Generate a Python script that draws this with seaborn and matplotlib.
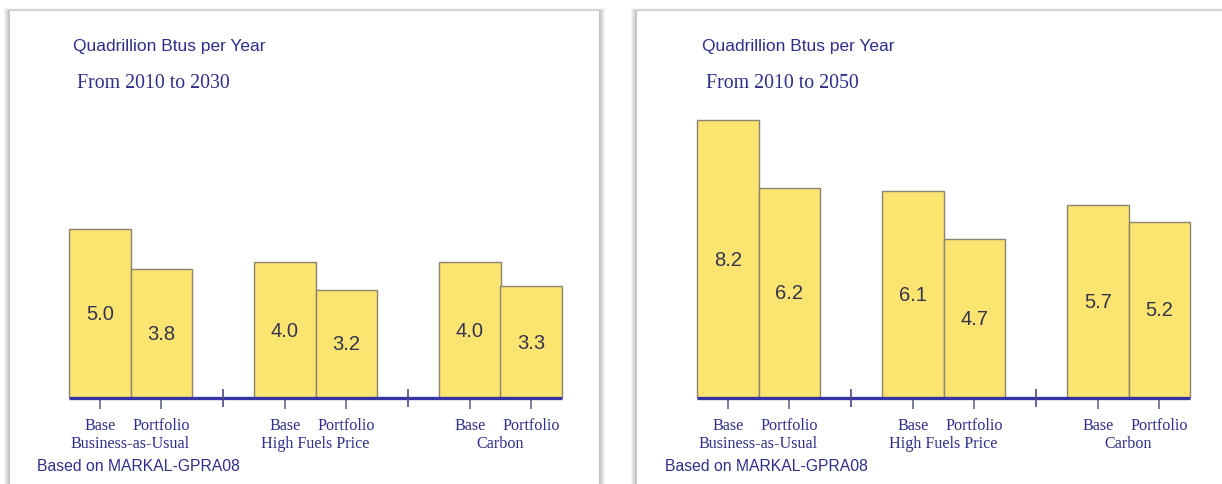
import matplotlib
matplotlib.use("Agg")
import matplotlib.pyplot as plt
from matplotlib.patches import Rectangle
import seaborn as sns
import pandas as pd

# Scenario groups, cases within each group, and the values for each panel
scenarios = ["Business-as-Usual", "High Fuels Price", "Carbon"]
cases = ["Base", "Portfolio"]
values_2030 = [5.0, 3.8, 4.0, 3.2, 4.0, 3.3]
values_2050 = [8.2, 6.2, 6.1, 4.7, 5.7, 5.2]
panel_titles = ["Quadrillion Btus per Year", "Quadrillion Btus per Year"]
panel_subtitles = ["From 2010 to 2030", "From 2010 to 2050"]
footnote = "Based on MARKAL-GPRA08"

W, H = 1222, 485
BAR_FILL = "#fbe470"
BAR_EDGE = "#8c8470"
NAVY = "#2e2e8c"
AXIS_BLUE = "#3434a4"
LABEL_DARK = "#34344e"

sns.set_theme(style="white")
plt.rcParams["font.family"] = ["Liberation Sans", "DejaVu Sans"]

fig = plt.figure(figsize=(W / 100, H / 100), dpi=100)
fig.patch.set_facecolor("white")


def px(x, y):
    """Pixel coords (from top-left) to figure fraction."""
    return x / W, 1 - y / H


def card(x0, y0, x1, y1):
    # soft drop shadow built from stacked translucent rectangles
    for i in range(6, 0, -1):
        fx, fy = px(x0 - i, y1 + 2)
        fw = (x1 - x0 + 2 * i) / W
        fh = (y1 - y0 + i * 0.5 + 2) / H
        fig.patches.append(Rectangle((fx, fy), fw, fh, transform=fig.transFigure,
                                     facecolor="#000000", alpha=0.045,
                                     edgecolor="none", zorder=0))
    fx, fy = px(x0, y1 + 2)
    fig.patches.append(Rectangle((fx, fy), (x1 - x0) / W, (y1 - y0 + 2) / H,
                                 transform=fig.transFigure, facecolor="white",
                                 edgecolor="none", zorder=0.5))


card(10, 12, 599, 490)
card(637, 12, 1230, 490)


def draw_panel(values, title, subtitle, left_px, text_x, foot_x):
    df = pd.DataFrame({
        "scenario": [s for s in scenarios for _ in cases],
        "case": cases * len(scenarios),
        "value": values,
    })
    axw = 555
    ax = fig.add_axes([left_px / W, 86 / H, axw / W, 339 / H])
    ax.set_zorder(2)
    ax.patch.set_alpha(0)
    sns.barplot(data=df, x="scenario", y="value", hue="case", order=scenarios,
                hue_order=cases, palette=[BAR_FILL, BAR_FILL], saturation=1,
                width=0.665, gap=0, edgecolor=BAR_EDGE, linewidth=1.0,
                legend=False, errorbar=None, ax=ax, zorder=2)
    ax.set_xlim(-0.5, 2.5)
    ax.set_ylim(0, 10)
    for c in ax.containers:
        ax.bar_label(c, fmt="%.1f", label_type="center", fontsize=14.5,
                     color=LABEL_DARK, family=["Liberation Sans", "DejaVu Sans"])

    # bar centres for case ticks, bar extents for the baseline
    bars = sorted(ax.patches, key=lambda p: p.get_x())
    centers = [p.get_x() + p.get_width() / 2 for p in bars]
    xmin = bars[0].get_x()
    xmax = bars[-1].get_x() + bars[-1].get_width()
    ax.hlines(0, xmin, xmax, color=AXIS_BLUE, lw=2.4, zorder=3, clip_on=False)
    seps = [i + 0.5 for i in range(len(scenarios) - 1)]
    ax.vlines(seps, -0.27, 0.27, color="#4a4a80", lw=1.2, zorder=3, clip_on=False)

    case_labels = [cases[i % len(cases)] for i in range(len(bars))]
    ax.set_xticks(centers, case_labels)
    ax.set_xticks(range(len(scenarios)), scenarios, minor=True)
    ax.tick_params(axis="x", which="major", length=8, width=1.1, color="#5a5a80",
                   direction="out", pad=6, labelsize=11.6, labelcolor=NAVY,
                   bottom=True)
    ax.tick_params(axis="x", which="minor", length=0, pad=27, labelsize=11.6,
                   labelcolor=NAVY, bottom=True)
    for lab in ax.get_xticklabels(which="both"):
        lab.set_family(["Liberation Serif", "DejaVu Serif"])
    ax.set_yticks([])
    ax.set_xlabel("")
    ax.set_ylabel("")
    sns.despine(ax=ax, left=True, bottom=True)

    fig.text(*px(text_x, 47), title, fontsize=12.5, color=NAVY, va="center",
             ha="left")
    fig.text(*px(text_x + 4, 84), subtitle, fontsize=14.3, color=NAVY,
             va="center", ha="left",
             family=["Liberation Serif", "DejaVu Serif"])
    fig.text(*px(foot_x, 467), footnote, fontsize=11.3, color=NAVY,
             va="center", ha="left")


draw_panel(values_2030, panel_titles[0], panel_subtitles[0], 38, 73, 37)
draw_panel(values_2050, panel_titles[1], panel_subtitles[1], 666, 702, 665)

fig.savefig("out.png", dpi=100, facecolor="white")
